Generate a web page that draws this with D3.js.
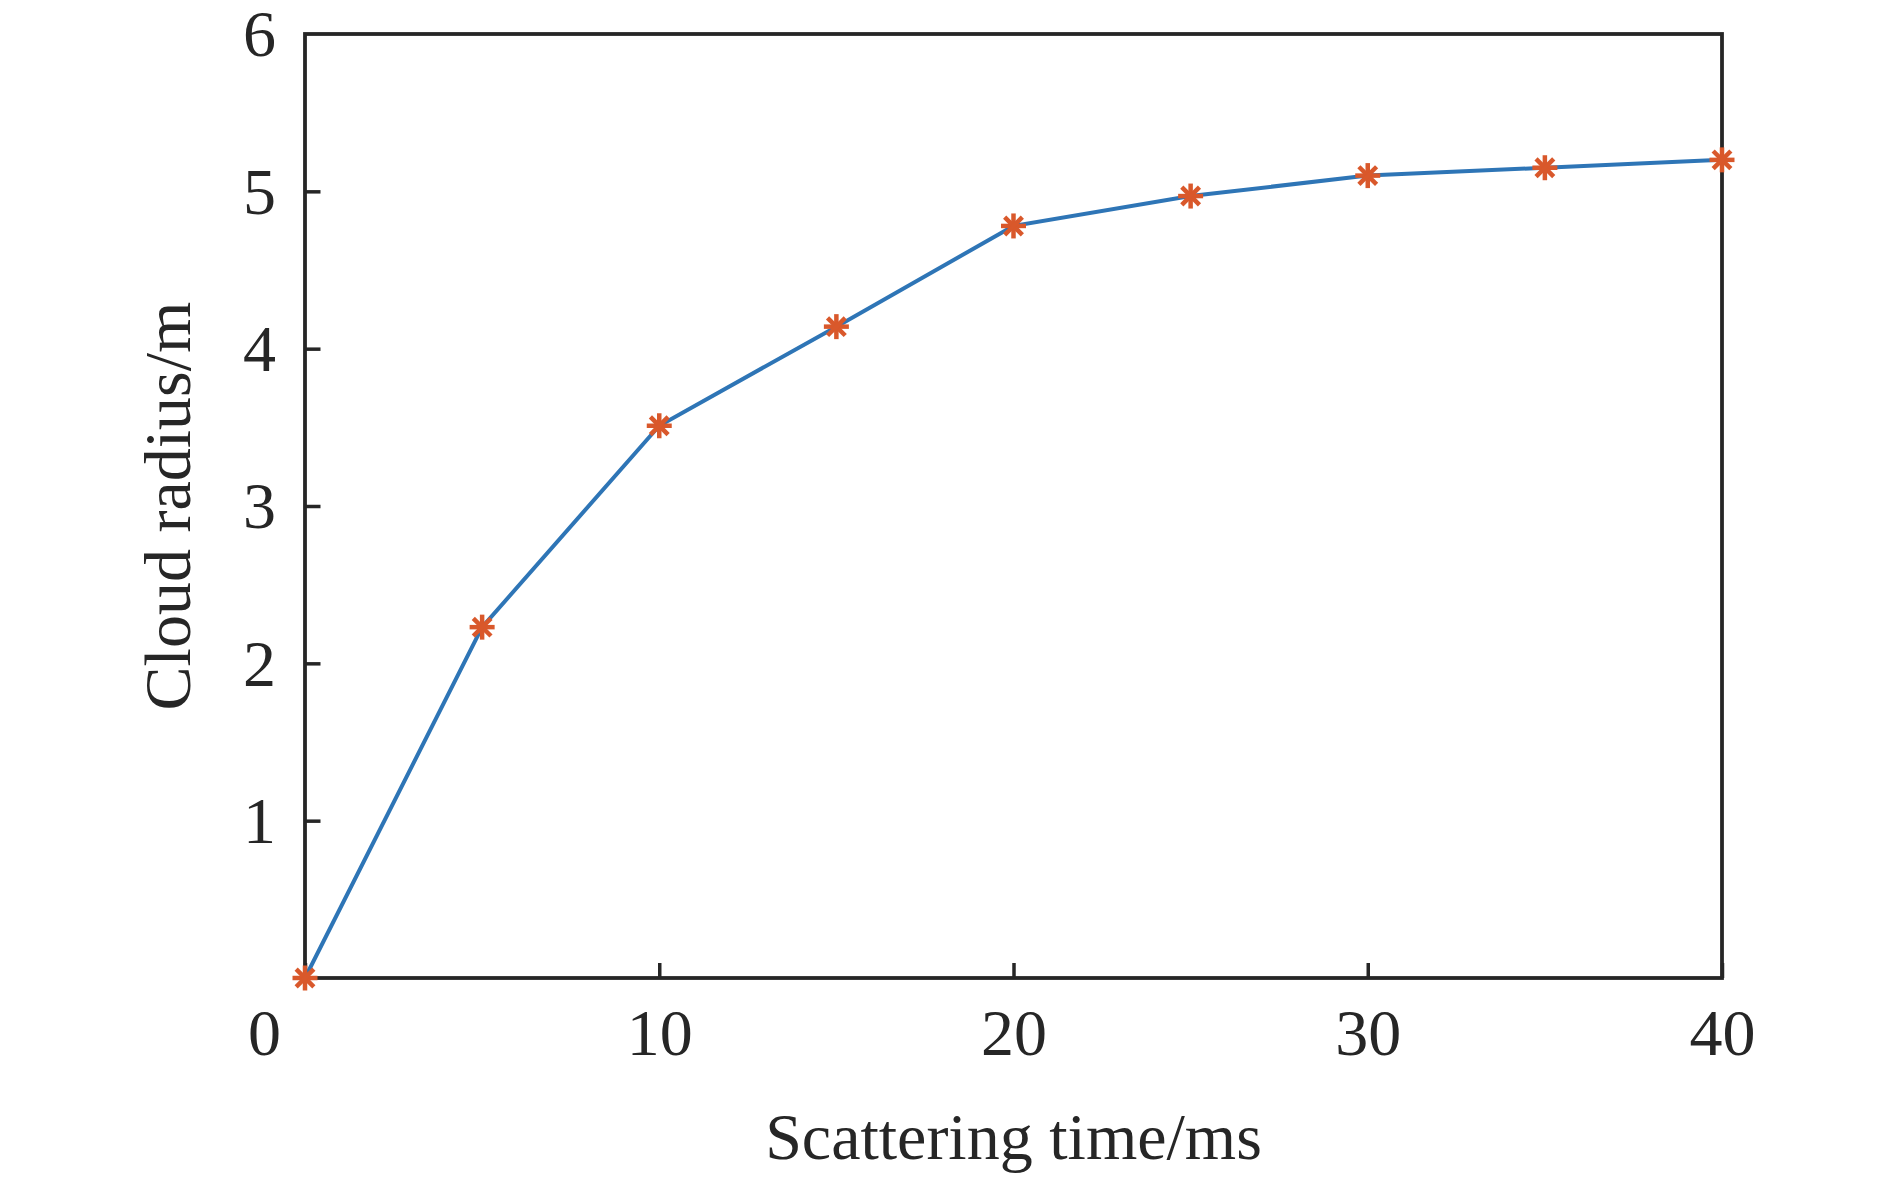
<!DOCTYPE html>
<html>
  <head>
    <title>Cloud radius</title>
    <style>
      body,
      html {
        margin: 0;
        padding: 0;
        background: #fff;
      }
      text {
        font-family: 'Liberation Serif', 'Times New Roman', serif;
        fill: #262626;
      }
    </style>
  </head>
  <body>
    <script src="https://cdn.jsdelivr.net/npm/d3@7"></script>
    <script>
      // scattering time (ms) and measured cloud radius (m)
      const times = [0, 5, 10, 15, 20, 25, 30, 35, 40];
      const radius = [0, 2.23, 3.51, 4.14, 4.78, 4.97, 5.1, 5.15, 5.2];
      const xTicks = [0, 10, 20, 30, 40];
      const yTicks = [1, 2, 3, 4, 5, 6];
      const xTitle = 'Scattering time/ms';
      const yTitle = 'Cloud radius/m';

      const width = 1890;
      const height = 1179;
      const margin = { top: 34, right: 168, bottom: 201, left: 305 };
      const innerW = width - margin.left - margin.right;
      const innerH = height - margin.top - margin.bottom;

      const svg = d3
        .select('body')
        .append('svg')
        .attr('width', width)
        .attr('height', height);

      const g = svg
        .append('g')
        .attr('transform', `translate(${margin.left},${margin.top})`);

      const x = d3.scaleLinear().domain([0, 40]).range([0, innerW]);
      const y = d3.scaleLinear().domain([0, 6]).range([innerH, 0]);

      const axisColor = '#262626';
      const fmt = d3.format('d');

      // x axis, ticks pointing inwards
      const xAxis = g
        .append('g')
        .attr('transform', `translate(0,${innerH})`)
        .call(
          d3
            .axisBottom(x)
            .tickValues(xTicks)
            .tickFormat(fmt)
            .tickSizeInner(-15)
            .tickSizeOuter(0)
            .tickPadding(0)
        );
      xAxis.select('.domain').remove();
      xAxis.selectAll('line').attr('stroke', axisColor).attr('stroke-width', 3.5);
      xAxis
        .selectAll('text')
        .attr('font-size', 66)
        .attr('y', 77)
        .attr('dy', 0)
        .attr('dx', (d) => (d === 0 ? -41 : 0))
        .style('font-family', "'Liberation Serif', serif")
        .attr('fill', axisColor);

      // y axis
      const yAxis = g
        .append('g')
        .call(
          d3
            .axisLeft(y)
            .tickValues(yTicks)
            .tickFormat(fmt)
            .tickSizeInner(-15.5)
            .tickSizeOuter(0)
            .tickPadding(0)
        );
      yAxis.select('.domain').remove();
      yAxis.selectAll('line').attr('stroke', axisColor).attr('stroke-width', 3.5);
      yAxis
        .selectAll('text')
        .attr('font-size', 66)
        .attr('x', -29)
        .attr('dy', '0.33em')
        .style('font-family', "'Liberation Serif', serif")
        .attr('fill', axisColor);
      // the 6 tick sits on the top border
      yAxis.selectAll('.tick line').filter((d) => d === 6).remove();

      // box
      g.append('rect')
        .attr('x', 0)
        .attr('y', 0)
        .attr('width', innerW)
        .attr('height', innerH)
        .attr('fill', 'none')
        .attr('stroke', axisColor)
        .attr('stroke-width', 3.8);

      // line
      const pts = times.map((t, i) => [t, radius[i]]);
      const line = d3
        .line()
        .x((d) => x(d[0]))
        .y((d) => y(d[1]));

      g.append('path')
        .datum(pts)
        .attr('d', line)
        .attr('fill', 'none')
        .attr('stroke', '#2e75b6')
        .attr('stroke-width', 4);

      // asterisk markers
      const r = 12.5;
      const arms = [0, 45, 90, 135];
      const markers = g
        .selectAll('g.marker')
        .data(pts)
        .enter()
        .append('g')
        .attr('class', 'marker')
        .attr('transform', (d) => `translate(${x(d[0])},${y(d[1])})`);
      markers
        .selectAll('line')
        .data(arms)
        .enter()
        .append('line')
        .attr('x1', (a) => -r * Math.cos((a * Math.PI) / 180))
        .attr('y1', (a) => -r * Math.sin((a * Math.PI) / 180))
        .attr('x2', (a) => r * Math.cos((a * Math.PI) / 180))
        .attr('y2', (a) => r * Math.sin((a * Math.PI) / 180))
        .attr('stroke', '#d9582b')
        .attr('stroke-width', 4.5);

      // axis titles
      svg
        .append('text')
        .attr('x', margin.left + innerW / 2)
        .attr('y', 1159)
        .attr('text-anchor', 'middle')
        .attr('font-size', 66)
        .text(xTitle);

      svg
        .append('text')
        .attr('transform', `translate(190,${margin.top + innerH / 2}) rotate(-90)`)
        .attr('text-anchor', 'middle')
        .attr('font-size', 66)
        .text(yTitle);
    </script>
  </body>
</html>
